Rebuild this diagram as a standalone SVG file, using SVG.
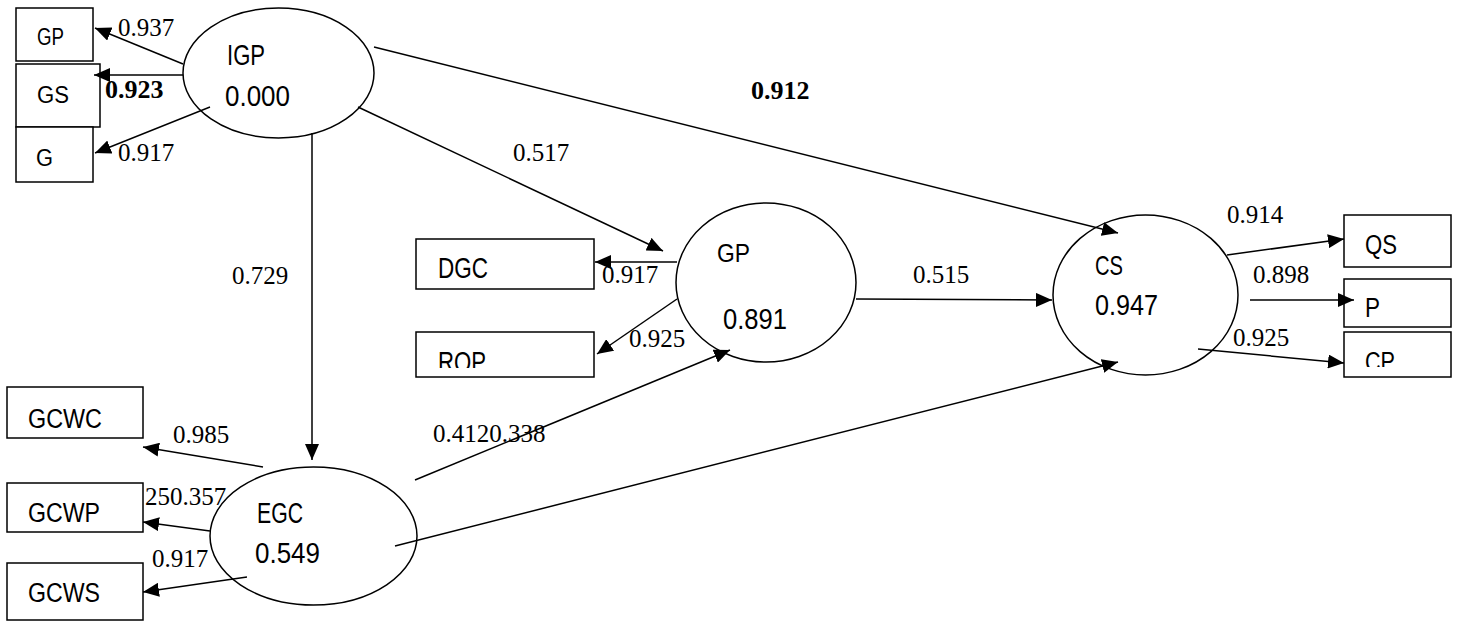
<svg xmlns="http://www.w3.org/2000/svg" width="1457" height="621" viewBox="0 0 1457 621">
<style>
.box{fill:#fff;stroke:#000;stroke-width:1.5}
.ell{fill:#fff;stroke:#000;stroke-width:1.5}
.lab{font-family:"Liberation Sans",Arial,sans-serif;fill:#000}
.num{font-family:"Liberation Serif","Times New Roman",serif;font-size:25px;fill:#000}
.bold{font-weight:bold;font-size:26px}
.con line{stroke:#000;stroke-width:1.5;marker-end:url(#ah)}
</style>
<defs>
<marker id="ah" markerUnits="userSpaceOnUse" markerWidth="16" markerHeight="14" viewBox="0 0 16 14" refX="16" refY="7" orient="auto">
<path d="M0,0 L16,7 L0,14 z" fill="#000"/>
</marker>
<clipPath id="clipROP"><rect x="416" y="332" width="178" height="36"/></clipPath>
<clipPath id="clipCP"><rect x="1344" y="332" width="107" height="35"/></clipPath>
</defs>
<rect width="1457" height="621" fill="#fff"/>

<g id="box-GP"><rect class="box" x="16" y="8" width="77" height="53"/><text class="lab" x="37" y="45" font-size="23" textLength="27" lengthAdjust="spacingAndGlyphs">GP</text></g>
<g id="box-GS"><rect class="box" x="16" y="64" width="84" height="63"/><text class="lab" x="37" y="103" font-size="23" textLength="32" lengthAdjust="spacingAndGlyphs">GS</text></g>
<g id="box-G"><rect class="box" x="16" y="127" width="77" height="55"/><text class="lab" x="36" y="166" font-size="23" textLength="17" lengthAdjust="spacingAndGlyphs">G</text></g>

<g id="box-DGC"><rect class="box" x="416" y="239" width="178" height="50"/><text class="lab" x="438" y="278" font-size="29" textLength="50" lengthAdjust="spacingAndGlyphs">DGC</text></g>
<g id="box-ROP"><rect class="box" x="416" y="332" width="178" height="45"/><text class="lab" x="438" y="372" font-size="29" textLength="48" lengthAdjust="spacingAndGlyphs" clip-path="url(#clipROP)">ROP</text></g>

<g id="box-QS"><rect class="box" x="1344" y="215" width="107" height="52"/><text class="lab" x="1365" y="254" font-size="27" textLength="32" lengthAdjust="spacingAndGlyphs">QS</text></g>
<g id="box-P"><rect class="box" x="1344" y="279" width="107" height="48"/><text class="lab" x="1365" y="317" font-size="27" textLength="15" lengthAdjust="spacingAndGlyphs">P</text></g>
<g id="box-CP"><rect class="box" x="1344" y="332" width="107" height="45"/><text class="lab" x="1365" y="371" font-size="27" textLength="30" lengthAdjust="spacingAndGlyphs" clip-path="url(#clipCP)">CP</text></g>

<g id="box-GCWC"><rect class="box" x="7" y="387" width="136" height="51"/><text class="lab" x="28" y="428" font-size="27" textLength="74" lengthAdjust="spacingAndGlyphs">GCWC</text></g>
<g id="box-GCWP"><rect class="box" x="7" y="483" width="136" height="49"/><text class="lab" x="28" y="522" font-size="27" textLength="72" lengthAdjust="spacingAndGlyphs">GCWP</text></g>
<g id="box-GCWS"><rect class="box" x="7" y="563" width="136" height="57"/><text class="lab" x="28" y="602" font-size="27" textLength="72" lengthAdjust="spacingAndGlyphs">GCWS</text></g>

<g id="node-IGP"><ellipse class="ell" cx="278.5" cy="73" rx="95.5" ry="65"/><text class="lab" x="227" y="65" font-size="29" textLength="38" lengthAdjust="spacingAndGlyphs">IGP</text><text class="lab" x="225" y="106" font-size="29" textLength="65" lengthAdjust="spacingAndGlyphs">0.000</text></g>
<g id="node-GP"><ellipse class="ell" cx="766" cy="282.5" rx="90" ry="79.5"/><text class="lab" x="717" y="262" font-size="26" textLength="33" lengthAdjust="spacingAndGlyphs">GP</text><text class="lab" x="723" y="329" font-size="29" textLength="64" lengthAdjust="spacingAndGlyphs">0.891</text></g>
<g id="node-CS"><ellipse class="ell" cx="1145.5" cy="295" rx="92.5" ry="80"/><text class="lab" x="1095" y="275" font-size="28" textLength="28" lengthAdjust="spacingAndGlyphs">CS</text><text class="lab" x="1095" y="315" font-size="29" textLength="63" lengthAdjust="spacingAndGlyphs">0.947</text></g>
<g id="node-EGC"><ellipse class="ell" cx="313.5" cy="536" rx="103.5" ry="69"/><text class="lab" x="257" y="523" font-size="29" textLength="46" lengthAdjust="spacingAndGlyphs">EGC</text><text class="lab" x="255" y="563" font-size="29" textLength="65" lengthAdjust="spacingAndGlyphs">0.549</text></g>

<g id="connectors" class="con">
<line x1="183" y1="64" x2="95" y2="28"/>
<line x1="183" y1="75" x2="94" y2="75"/>
<line x1="210" y1="107" x2="95" y2="153"/>
<line x1="312" y1="133" x2="312" y2="460"/>
<line x1="374" y1="47" x2="1118" y2="233"/>
<line x1="358" y1="107" x2="663" y2="251"/>
<line x1="677" y1="262" x2="595" y2="262"/>
<line x1="677" y1="299" x2="597" y2="354"/>
<line x1="415" y1="480" x2="730" y2="350"/>
<line x1="395" y1="546" x2="1118" y2="362"/>
<line x1="263" y1="467" x2="143" y2="447"/>
<line x1="210" y1="531" x2="143" y2="522"/>
<line x1="247" y1="577" x2="143" y2="592"/>
<line x1="856" y1="299" x2="1052" y2="300"/>
<line x1="1227" y1="255" x2="1344" y2="239"/>
<line x1="1250" y1="300" x2="1354" y2="300"/>
<line x1="1198" y1="349" x2="1344" y2="363"/>
</g>

<g id="labels">
<text class="num" x="118" y="36">0.937</text>
<text class="num bold" x="105" y="98">0.923</text>
<text class="num" x="118" y="161">0.917</text>
<text class="num" x="232" y="284">0.729</text>
<text class="num" x="513" y="161">0.517</text>
<text class="num bold" x="751" y="99">0.912</text>
<text class="num" x="602" y="283">0.917</text>
<text class="num" x="629" y="347">0.925</text>
<text class="num" x="433" y="442">0.4120.338</text>
<text class="num" x="913" y="283">0.515</text>
<text class="num" x="1227" y="223">0.914</text>
<text class="num" x="1253" y="283">0.898</text>
<text class="num" x="1233" y="346">0.925</text>
<text class="num" x="173" y="443">0.985</text>
<text class="num" x="145" y="505">250.357</text>
<text class="num" x="152" y="567">0.917</text>
</g>
</svg>
